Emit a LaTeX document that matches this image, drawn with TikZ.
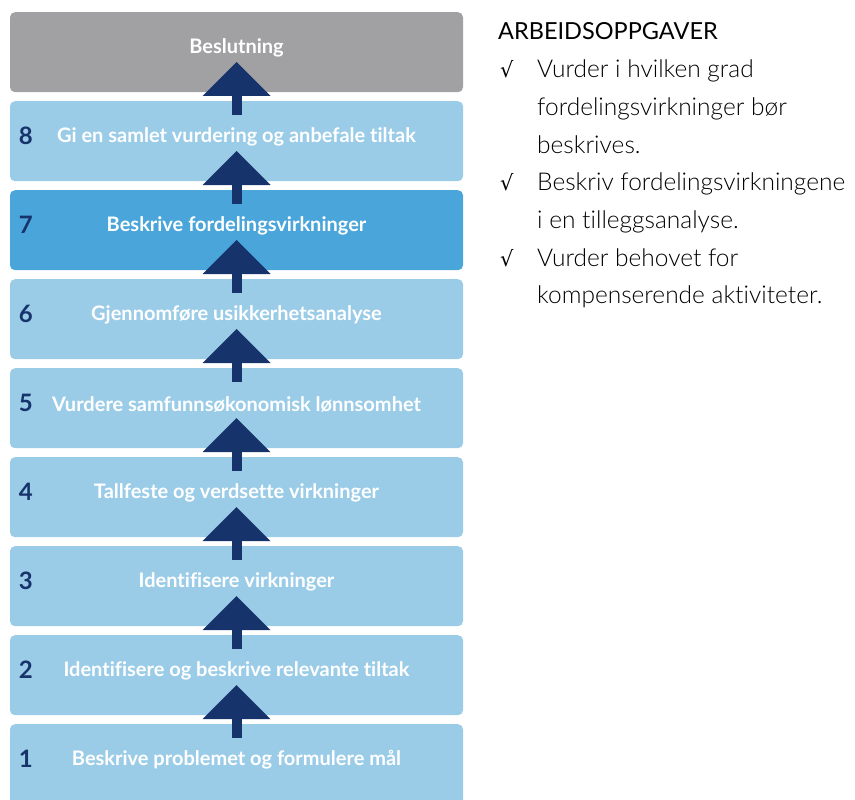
\documentclass[tikz,border=0pt]{standalone}
\usepackage{fontspec}
\setmainfont{Lato}[Ligatures=NoCommon]
\newfontfamily\lightfont{Lato Light}[Ligatures=NoCommon]
\newfontfamily\symfont{DejaVu Sans}
\usetikzlibrary{arrows.meta}
\definecolor{navy}{HTML}{17336B}
\definecolor{lightblue}{HTML}{9ACCE8}
\definecolor{midblue}{HTML}{4AA5DA}
\definecolor{greybox}{HTML}{A1A1A3}
\tikzset{
  stepbox/.style={fill=lightblue, rounded corners=5pt, minimum width=453pt, minimum height=80pt, anchor=north, inner sep=0pt},
  boxtxt/.style={text=white, font=\bfseries\fontsize{20}{22}\selectfont},
  numtxt/.style={text=navy, font=\bfseries\fontsize{24}{26}\selectfont},
  uparrow/.style={navy, line width=10pt, -{Triangle[width=68pt,length=34pt,line width=0pt]}},
  tasktxt/.style={anchor=base west, inner sep=0pt, font=\lightfont\fontsize{24.5}{28}\selectfont}
}
\begin{document}
\begin{tikzpicture}[x=1pt,y=1pt]
\useasboundingbox (0,0) rectangle (855,-800);
% Steps
\node[stepbox, fill=greybox] (beslut) at (236.5,-12) {};
\node[boxtxt] at ([yshift=-36]beslut.north) {Beslutning};
\foreach \n/\col/\txt in {8/lightblue/Gi en samlet vurdering og anbefale tiltak,
    7/midblue/Beskrive fordelingsvirkninger,
    6/lightblue/Gjennomføre usikkerhetsanalyse,
    5/lightblue/Vurdere samfunnsøkonomisk lønnsomhet,
    4/lightblue/Tallfeste og verdsette virkninger,
    3/lightblue/Identifisere virkninger,
    2/lightblue/Identifisere og beskrive relevante tiltak,
    1/lightblue/Beskrive problemet og formulere mål} {
    \node[stepbox, fill=\col] (b\n) at (236.5,{-12-(9-\n)*89}) {};
    \node[boxtxt] at ([yshift=-36]b\n.north) {\txt};
    \node[numtxt] at ([xshift=16,yshift=-35]b\n.north west) {\n};
}
% Arrows
\foreach \n in {1,...,8} {
    \draw[uparrow] ([yshift=-14]b\n.north) -- ([yshift=39]b\n.north);
}
% Tasks
\node[tasktxt, font=\fontsize{23.5}{26}\selectfont] (head) at (498,-40) {ARBEIDSOPPGAVER};
\foreach \k/\chk/\txt in {1/1/Vurder i hvilken grad, 2/0/fordelingsvirkninger bør, 3/0/beskrives.,
    4/1/Beskriv fordelingsvirkningene, 5/0/i en tilleggsanalyse.,
    6/1/Vurder behovet for, 7/0/kompenserende aktiviteter.} {
    \node[tasktxt] (t\k) at (537,{-40-\k*37.7}) {\txt};
    \ifnum\chk=1
      \node[tasktxt, font=\symfont\fontsize{21}{24}\selectfont] at (500,{-40-\k*37.7}) {√};
    \fi
}
\end{tikzpicture}
\end{document}
